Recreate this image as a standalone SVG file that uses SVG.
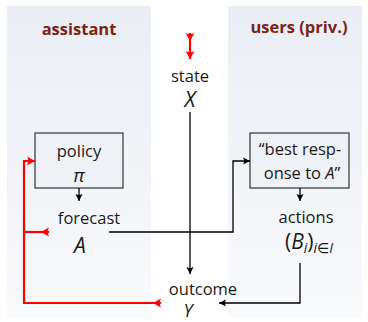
<svg xmlns="http://www.w3.org/2000/svg" width="368" height="322" viewBox="0 0 368 322">
<defs>
<linearGradient id="pg" x1="0" y1="0" x2="0" y2="1">
<stop offset="0" stop-color="#eaeef4"/>
<stop offset="1" stop-color="#f9fafc"/>
</linearGradient>
<marker id="ah" viewBox="-9 -5 10 10" markerWidth="10" markerHeight="10" refX="0" refY="0" orient="auto" markerUnits="userSpaceOnUse">
<path d="M0,0 L-7,-3.6 Q-5,0 -7,3.6 Z" fill="#000"/>
</marker>
<marker id="rh" viewBox="-10 -6 11 12" markerWidth="11" markerHeight="12" refX="0" refY="0" orient="auto" markerUnits="userSpaceOnUse">
<path d="M0,0 L-8,-4.5 Q-5.5,0 -8,4.5 Z" fill="#f00"/>
</marker>
<marker id="rt" viewBox="-1 -6 11 12" markerWidth="11" markerHeight="12" refX="0" refY="0" orient="auto" markerUnits="userSpaceOnUse">
<path d="M8,0 L0,-4.5 Q2.5,0 0,4.5 Z" fill="#f00"/>
</marker>
</defs>
<style>
text{font-family:"Open Sans","DejaVu Sans",sans-serif;fill:#1a1a1a;text-anchor:middle}
.t{font-size:16.5px}
.m{font-style:italic;font-size:21px}
.u{font-style:normal}
.h{font-weight:bold;fill:#7a2416;font-size:16.5px}
.box{fill:#eef1f6;stroke:#333;stroke-width:1.2}
.c{fill:none;stroke:#000;stroke-width:1.3}
.r{fill:none;stroke:#f00;stroke-width:2.2}
</style>
<rect x="7" y="6" width="144" height="312" fill="url(#pg)"/>
<rect x="228" y="6" width="134" height="312" fill="url(#pg)"/>
<text class="h" x="79" y="35">assistant</text>
<text class="h" x="299" y="33">users (priv.)</text>

<g id="state"><text class="t" x="190" y="82">state</text><text class="m" x="190" y="107">X</text></g>
<g id="policy"><rect class="box" x="35" y="133" width="88" height="55"/><text class="t" x="79" y="157">policy</text><text class="m" x="79" y="182" style="font-size:19px">π</text></g>
<g id="forecast"><text class="t" x="89" y="224">forecast</text><text class="m" x="80" y="253">A</text></g>
<g id="bestresponse"><rect class="box" x="250" y="133" width="99" height="55"/><text class="t" x="300" y="155">“best resp-</text><text class="t" x="302" y="179">onse to <tspan font-style="italic">A</tspan>”</text></g>
<g id="actions"><text class="t" x="306" y="223">actions</text><text class="m" x="309" y="249"><tspan class="u">(</tspan>B<tspan font-size="14" dy="4">i</tspan><tspan class="u" dy="-4">)</tspan><tspan font-size="14" dy="4">i∈I</tspan></text></g>
<g id="outcome"><text class="t" x="203" y="295">outcome</text><text class="m" x="188" y="317" style="font-size:18px">Y</text></g>

<g id="connectors">
<path class="c" d="M190,112 V274" marker-end="url(#ah)"/>
<path class="c" d="M79,188 V201" marker-end="url(#ah)"/>
<path class="c" d="M300,188 V201" marker-end="url(#ah)"/>
<path class="c" d="M109,232 H233 V161 H250" marker-end="url(#ah)"/>
<path class="c" d="M300,263 V303 H219" marker-end="url(#ah)"/>
<path class="r" d="M190,33 V59" marker-start="url(#rt)" marker-end="url(#rh)"/>
<path class="r" d="M161,303 H24 V161 H35" marker-start="url(#rt)" marker-end="url(#rh)"/>
<path class="r" d="M49,232 H24" marker-start="url(#rt)"/>
</g>
</svg>
